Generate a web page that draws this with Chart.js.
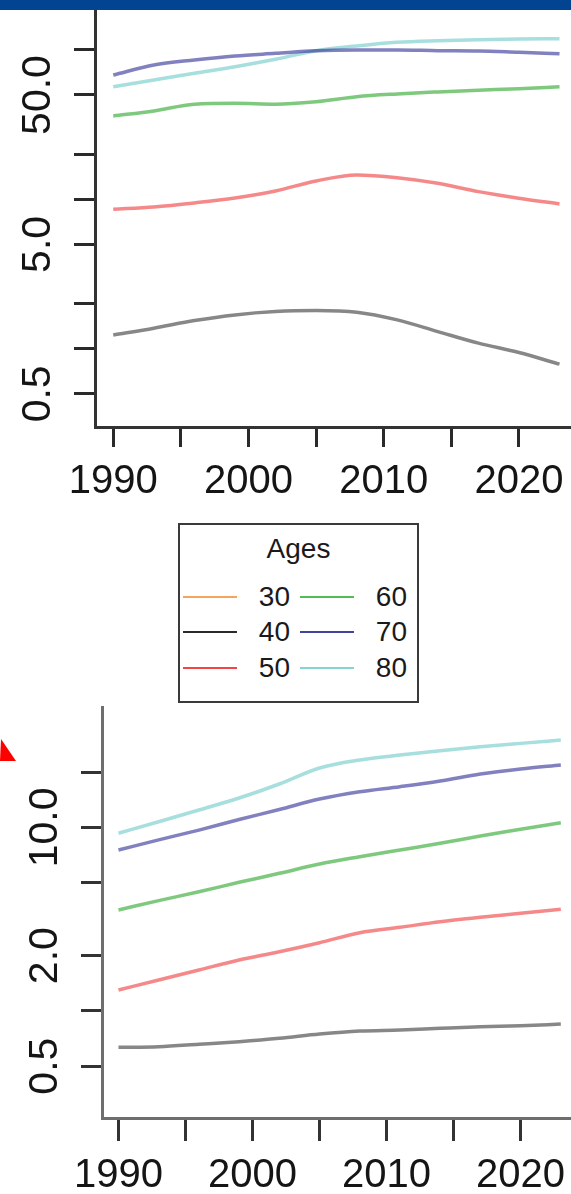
<!DOCTYPE html>
<html>
<head>
<meta charset="utf-8">
<script src="https://cdn.jsdelivr.net/npm/chart.js@4/dist/chart.umd.min.js"></script>
<style>
html,body{margin:0;padding:0;background:#fff;}
body{width:571px;height:1194px;overflow:hidden;position:relative;font-family:"Liberation Sans",Arial,sans-serif;}
#bar{position:absolute;left:0;top:0;width:571px;height:10px;background:#024392;}
#c1{position:absolute;left:0;top:10px;}
#c2{position:absolute;left:0;top:700px;}
#arrow{position:absolute;left:0;top:730px;}
#legend{position:absolute;left:178px;top:523px;width:237px;height:176px;border:2px solid #3a3a3a;box-sizing:content-box;}
#legend .t{position:absolute;left:0;width:237px;text-align:center;font-size:28px;line-height:28px;top:10px;color:#1a1a1a;}
#legend .sw{position:absolute;height:2px;width:54px;}
#legend .lb{position:absolute;font-size:28px;line-height:28px;text-align:right;width:60px;color:#1a1a1a;}
</style>
</head>
<body>
<div id="bar"></div>
<canvas id="c1" width="571" height="500"></canvas>
<div id="legend"><div class="t">Ages</div></div>
<svg id="arrow" width="20" height="34"><polygon points="0,31 16,31 1,9" fill="#ff0000"/></svg>
<canvas id="c2" width="571" height="494"></canvas>
<script>
// ---- data ----
const years = [1990,1993,1996,1999,2002,2005,2008,2011,2014,2017,2020,2023];
const ages = ['30','40','50','60','70','80'];
const legendColors = ['#f7a35c','#2a2a2a','#f04646','#52bd52','#43439f','#86d4d0'];
const lineColors = ['rgba(247,140,50,0.6)','rgba(0,0,0,0.47)','rgba(236,40,40,0.55)','rgba(40,165,40,0.6)','rgba(45,45,150,0.6)','rgba(95,195,195,0.55)'];

// upper panel (values by age, age 30 not drawn)
const top40 = [1.24,1.375,1.546,1.688,1.777,1.804,1.76,1.563,1.305,1.092,0.945,0.79];
const top50 = [8.60,8.91,9.48,10.23,11.40,13.30,14.58,13.99,12.83,11.28,10.19,9.33];
const top60 = [36.2,39.1,43.4,44.0,43.4,45.1,48.7,50.8,52.4,53.8,55.1,56.8];
const top70 = [68.0,79.4,85.7,91.2,95.0,98.9,100.0,100.0,99.0,98.5,96.5,94.5];
const top80 = [56.8,63.0,69.9,77.3,86.7,98.9,106.4,112.6,115.4,117.2,118.5,119.0];

// lower panel
const bot40 = [0.633,0.638,0.658,0.680,0.709,0.748,0.777,0.787,0.804,0.820,0.830,0.848];
const bot50 = [1.30,1.474,1.671,1.894,2.102,2.353,2.668,2.855,3.063,3.237,3.403,3.579];
const bot60 = [3.55,3.99,4.46,5.02,5.62,6.32,6.92,7.53,8.19,8.98,9.76,10.61];
const bot70 = [7.53,8.55,9.67,11.04,12.52,14.28,15.65,16.67,17.90,19.54,20.81,21.88];
const bot80 = [9.29,10.74,12.44,14.46,17.24,21.07,23.3,24.8,26.2,27.5,28.7,29.9];

// ticks
const xTicks = [1990,1995,2000,2005,2010,2015,2020];
const xTickLabels = ['1990','','2000','','2010','','2020'];
const topYTicks = [0.5,1,2,5,10,20,50,100];
const topYTickLabels = ['0.5','','','5.0','','','50.0',''];
const botYTicks = [0.5,1,2,5,10,20];
const botYTickLabels = ['0.5','','2.0','','10.0',''];

const FONT = '"Liberation Sans", Arial, sans-serif';

// ---- legend (HTML, built from the arrays) ----
(function(){
  const lg = document.getElementById('legend');
  const rowsY = [72,107,143];
  ages.forEach((a,i)=>{
    const col = Math.floor(i/3), row = i%3;
    const sw = document.createElement('div');
    sw.className='sw';
    sw.style.background = legendColors[i];
    sw.style.left = (col===0?3:120)+'px';
    sw.style.top = (rowsY[row]-1)+'px';
    lg.appendChild(sw);
    const lb = document.createElement('div');
    lb.className='lb';
    lb.textContent = a;
    lb.style.left = ((col===0?110:227)-60)+'px';
    lb.style.top = (rowsY[row]-14)+'px';
    lg.appendChild(lb);
  });
})();

function makeDatasets(series){
  const ds = [];
  series.forEach((vals, k)=>{
    if(!vals) return;
    ds.push({
      label: ages[k],
      data: years.map((y,i)=>({x:y, y:vals[i]})),
      borderColor: lineColors[k],
      borderWidth: 3.5,
      pointRadius: 0,
      fill: false,
      cubicInterpolationMode: 'monotone'
    });
  });
  return ds;
}

function makeChart(id, series, cfg){
  return new Chart(document.getElementById(id), {
    type: 'line',
    data: { datasets: makeDatasets(series) },
    options: {
      responsive: false,
      animation: false,
      devicePixelRatio: 1,
      layout: { padding: { top: cfg.padTop, left: 0, right: 0, bottom: 0 } },
      plugins: { legend: { display: false }, tooltip: { enabled: false } },
      scales: {
        x: {
          type: 'linear',
          min: cfg.xmin, max: cfg.xmax,
          afterBuildTicks: s => { s.ticks = xTicks.map(v=>({value:v})); },
          afterFit: s => { s.height = cfg.xH; s.paddingLeft = 0; s.paddingRight = 0; },
          border: { display: true, color: cfg.axisColor, width: 3 },
          grid: { drawOnChartArea: false, drawTicks: true, tickLength: cfg.xTickLen, tickColor: cfg.tickColor, tickWidth: 3 },
          ticks: {
            autoSkip: false, minRotation: 0, maxRotation: 0, padding: cfg.xPad,
            color: '#151515', font: { family: FONT, size: 40 },
            callback: (v, i) => xTickLabels[i]
          }
        },
        y: {
          type: 'logarithmic',
          min: cfg.ymin, max: cfg.ymax,
          afterBuildTicks: s => { s.ticks = cfg.yTicks.map(v=>({value:v})); },
          afterFit: s => { s.width = cfg.yW; s.paddingTop = 0; s.paddingBottom = 0; },
          border: { display: true, color: cfg.axisColor, width: 3 },
          grid: { drawOnChartArea: false, drawTicks: true, tickLength: 21, tickColor: cfg.tickColor, tickWidth: 3 },
          ticks: {
            autoSkip: false, minRotation: 90, maxRotation: 90, crossAlign: 'center', padding: cfg.yPad,
            color: '#151515', font: { family: FONT, size: 41 },
            callback: (v, i) => cfg.yLabels[i]
          }
        }
      }
    }
  });
}

makeChart('c1', [null, top40, top50, top60, top70, top80], {
  padTop: 0, xmin: 1988.65, xmax: 2023.85, xH: 83, xTickLen: 20, xPad: 11,
  ymin: 0.302, ymax: 185.2, yW: 95, yPad: -5,
  yTicks: topYTicks, yLabels: topYTickLabels,
  axisColor: '#333333', tickColor: '#2a2a2a'
});

makeChart('c2', [null, bot40, bot50, bot60, bot70, bot80], {
  padTop: 7, xmin: 1988.77, xmax: 2023.76, xH: 76, xTickLen: 23, xPad: 11,
  ymin: 0.2609, ymax: 45.3, yW: 102, yPad: -5,
  yTicks: botYTicks, yLabels: botYTickLabels,
  axisColor: '#6e6e6e', tickColor: '#333333'
});
</script>
</body>
</html>
